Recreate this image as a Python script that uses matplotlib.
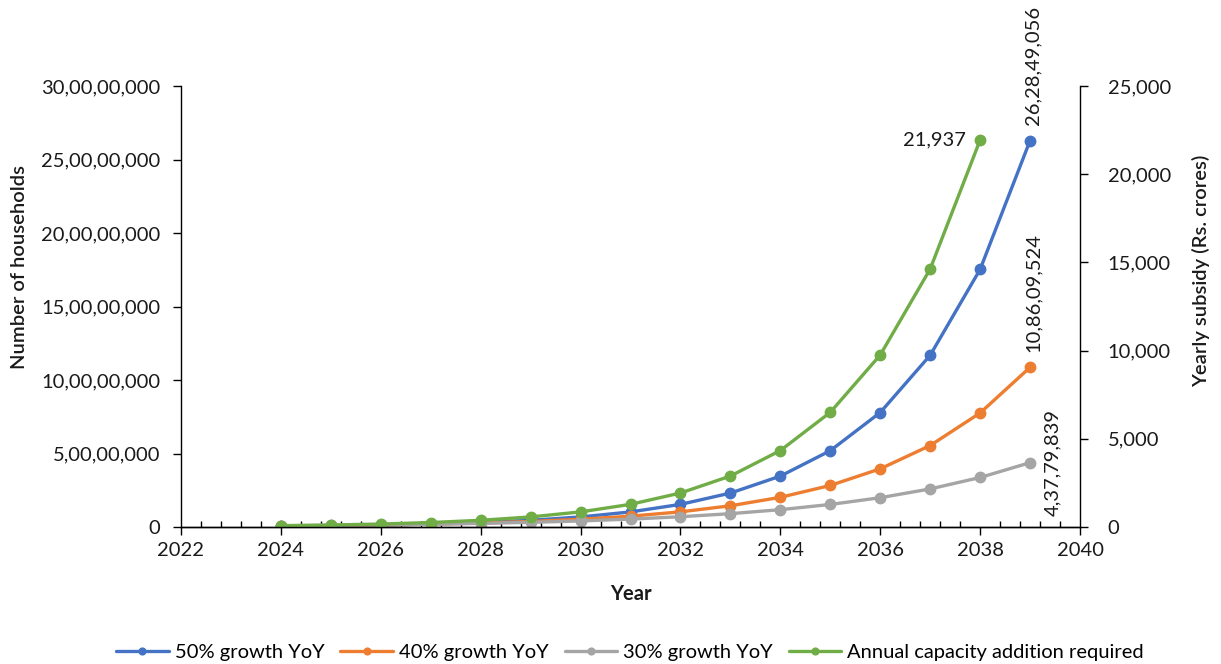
import matplotlib
matplotlib.use("Agg")
import matplotlib.pyplot as plt
from matplotlib.ticker import FuncFormatter, MultipleLocator

# Projected households (left axis) and yearly subsidy (right axis)
years_hh = list(range(2024, 2040))
growth_50 = [600257, 900386, 1350579, 2025869, 3038803, 4558205, 6837307, 10255961,
             15383941, 23075911, 34613867, 51920801, 77881202, 116821803, 175232704, 262849056]
growth_40 = [698148, 977407, 1368370, 1915718, 2682005, 3754807, 5256729, 7359421,
             10303189, 14424464, 20194250, 28271950, 39580730, 55413022, 77578231, 108609524]
growth_30 = [855311, 1111904, 1445475, 1879118, 2442853, 3175709, 4128422, 5366948,
             6977032, 9070142, 11791184, 15328539, 19927100, 25905230, 33676799, 43779839]

years_sub = list(range(2024, 2039))
subsidy = [75, 113, 169, 254, 380, 571, 856, 1284, 1926, 2889, 4333, 6500, 9750, 14625, 21937]

labels = ["50% growth YoY", "40% growth YoY", "30% growth YoY",
          "Annual capacity addition required"]
colors = ["#4472C4", "#ED7D31", "#A5A5A5", "#70AD47"]


def indian(n):
    n = int(round(n))
    s = str(abs(n))
    if len(s) <= 3:
        out = s
    else:
        head, tail = s[:-3], s[-3:]
        parts = []
        while len(head) > 2:
            parts.insert(0, head[-2:])
            head = head[:-2]
        if head:
            parts.insert(0, head)
        out = ",".join(parts) + "," + tail
    return ("-" if n < 0 else "") + out


plt.rcParams["font.family"] = ["Lato", "DejaVu Sans"]
TXT = "#1a1a1a"
FS = 14.5

fig = plt.figure(figsize=(12.21, 6.64), dpi=100)
ax = fig.add_axes([181 / 1221, 1 - 527 / 664, (1080 - 181) / 1221, (527 - 86) / 664])
ax2 = ax.twinx()

lw, ms = 2.4, 7.5
handles = []
for vals, c, lab in zip([growth_50, growth_40, growth_30], colors[:3], labels[:3]):
    h, = ax.plot(years_hh, vals, color=c, lw=lw, marker="o", ms=ms, label=lab,
                 solid_capstyle="round")
    handles.append(h)
h, = ax2.plot(years_sub, subsidy, color=colors[3], lw=lw, marker="o", ms=ms,
              label=labels[3], solid_capstyle="round")
handles.append(h)

ax.set_xlim(2022, 2040)
ax.set_ylim(0, 300000000)
ax2.set_ylim(0, 25000)
ax.xaxis.set_major_locator(MultipleLocator(2))
ax.xaxis.set_minor_locator(MultipleLocator(0.4))
ax.yaxis.set_major_locator(MultipleLocator(50000000))
ax2.yaxis.set_major_locator(MultipleLocator(5000))
ax.yaxis.set_major_formatter(FuncFormatter(lambda v, p: indian(v)))
ax2.yaxis.set_major_formatter(FuncFormatter(lambda v, p: indian(v)))

for a in (ax, ax2):
    a.spines["top"].set_visible(False)
    for s in a.spines.values():
        s.set_color("black")
        s.set_linewidth(1.0)
ax.spines["right"].set_visible(False)
ax2.spines["left"].set_visible(False)

ax.tick_params(axis="x", which="major", direction="out", length=6, width=1,
               labelsize=FS, colors="black", labelcolor=TXT, pad=5)
ax.tick_params(axis="x", which="minor", direction="in", length=4, width=1, colors="black")
ax.tick_params(axis="y", which="major", direction="out", length=6, width=1,
               labelsize=FS, labelcolor=TXT, pad=9)
ax2.tick_params(axis="y", which="major", direction="out", length=6, width=1,
                labelsize=FS, labelcolor=TXT, pad=14)

ax.set_xlabel("Year", fontsize=FS, fontweight="bold", color=TXT, labelpad=18)
ax.set_ylabel("Number of households", fontsize=FS, fontweight="semibold", color=TXT)
ax2.set_ylabel("Yearly subsidy (Rs. crores)", fontsize=FS, fontweight="semibold",
               color=TXT)
ax.yaxis.set_label_coords(-153 / 899, 0.59)
ax2.yaxis.set_label_coords(1 + 112 / 899, 0.58)

# End-point value labels
ax.annotate(indian(growth_50[-1]), (years_hh[-1], growth_50[-1]), xytext=(2, 11),
            textcoords="offset points", rotation=90, ha="center", va="bottom",
            fontsize=FS, color=TXT)
ax.annotate(indian(growth_40[-1]), (years_hh[-1], growth_40[-1]), xytext=(2, 11),
            textcoords="offset points", rotation=90, ha="center", va="bottom",
            fontsize=FS, color=TXT)
ax.annotate(indian(growth_30[-1]), (years_hh[-1], growth_30[-1]), xytext=(16, 0),
            textcoords="offset points", rotation=90, ha="center", va="center",
            fontsize=FS, color=TXT)
ax2.annotate(indian(subsidy[-1]), (years_sub[-1], subsidy[-1]), xytext=(-10, 0),
             textcoords="offset points", ha="right", va="center",
             fontsize=FS, color=TXT)

ax2.set_zorder(ax.get_zorder() + 1)
ax.set_facecolor("white")
ax2.patch.set_visible(False)

fig.legend(handles=handles, labels=labels, loc="center", bbox_to_anchor=(0.516, 1 - 652 / 664),
           ncol=4, frameon=False, fontsize=FS, handlelength=2.6, handletextpad=0.3,
           columnspacing=0.8, markerscale=0.65)

fig.savefig("out.png", dpi=100)
